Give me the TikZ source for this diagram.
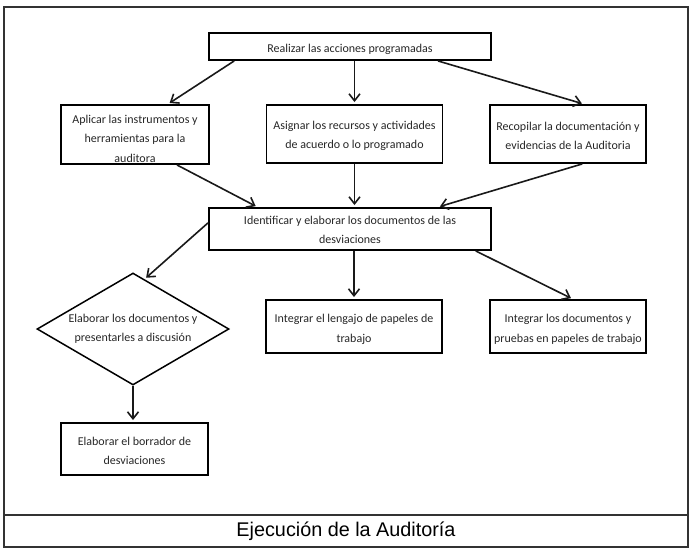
\documentclass[tikz,border=0pt]{standalone}
\usepackage{fontspec}
\setmainfont{Carlito}
\newfontfamily\titlefont{Liberation Sans}
\usetikzlibrary{arrows.meta,shapes.geometric,calc}
\begin{document}
\begin{tikzpicture}[x=1pt,y=-1pt,
  box/.style={draw=black, line width=1.9pt, rectangle, inner sep=0pt},
  dia/.style={draw=black, line width=1.5pt, diamond, inner sep=0pt},
  txt/.style={inner sep=0pt, align=center, font=\fontsize{12}{19.5}\selectfont, text=black!85},
  arr/.style={draw=black!90, line width=1.6pt, shorten >=2pt,
    -{Straight Barb[length=7pt,width=11pt,line width=1.6pt]}},
  frame/.style={draw=black!80, line width=1.5pt, rectangle, inner sep=0pt}
]
\useasboundingbox (0,0) rectangle (694,554);
\node[frame, minimum width=684pt, minimum height=540pt] (frame) at (346,277) {};
\node[frame, minimum width=684pt, minimum height=32pt, font=\titlefont\fontsize{19.8}{22}\selectfont, text=black] (title) at (346,531) {Ejecución de la Auditoría};

\node[box, minimum width=282pt, minimum height=27pt] (top) at (350,46.5) {};
\node[box, minimum width=148pt, minimum height=59pt] (A) at (135,134.5) {};
\node[box, minimum width=176pt, minimum height=58pt] (B) at (354.5,134) {};
\node[box, minimum width=156pt, minimum height=58pt] (C) at (568,134) {};
\node[box, minimum width=282pt, minimum height=42pt] (D) at (350,229) {};
\node[dia, minimum width=192pt, minimum height=112pt] (E) at (133,329) {};
\node[box, minimum width=176pt, minimum height=53pt] (F) at (354,326.5) {};
\node[box, minimum width=156pt, minimum height=53pt] (G) at (568,326.5) {};
\node[box, minimum width=147pt, minimum height=52pt] (H) at (134.5,449) {};

\node[txt] (tTop) at ([yshift=-3pt]top.center) {Realizar las acciones programadas};
\node[txt] (tA) at ([yshift=-4pt]A.center) {Aplicar las instrumentos y\\herramientas para la\\auditora};
\node[txt] (tB) at ([yshift=-2pt]B.center) {Asignar los recursos y actividades\\de acuerdo o lo programado};
\node[txt] (tC) at ([yshift=-2pt]C.center) {Recopilar la documentación y\\evidencias de la Auditoria};
\node[txt] (tD) at ([yshift=-1pt]D.center) {Identificar y elaborar los documentos de las\\desviaciones};
\node[txt] (tE) at ([yshift=0pt]E.center) {Elaborar los documentos y\\presentarles a discusión};
\node[txt] (tF) at ([yshift=-3pt]F.center) {Integrar el lengajo de papeles de\\trabajo};
\node[txt] (tG) at ([yshift=-3pt]G.center) {Integrar los documentos y\\pruebas en papeles de trabajo};
\node[txt] (tH) at ([yshift=-2pt]H.center) {Elaborar el borrador de\\desviaciones};

\draw[arr] ($(top.south west)!0.092!(top.south east)$) -- ($(A.north west)!0.72!(A.north east)$);
\draw[arr] (top.south -| B.north) -- (B.north);
\draw[arr] ($(top.south west)!0.81!(top.south east)$) -- ($(C.north west)!0.60!(C.north east)$);
\draw[arr] ($(A.south west)!0.78!(A.south east)$) -- ($(D.north west)!0.174!(D.north east)$);
\draw[arr] (B.south) -- (B.south |- D.north);
\draw[arr] ($(C.south west)!0.59!(C.south east)$) -- ($(D.north west)!0.81!(D.north east)$);
\draw[arr] ($(D.north west)!0.36!(D.south west)$) -- ($(E.north)!0.12!(E.east)$);
\draw[arr] (D.south -| F.north) -- (F.north);
\draw[arr] ($(D.south west)!0.943!(D.south east)$) -- ($(G.north west)!0.53!(G.north east)$);
\draw[arr] (E.south) -- (E.south |- H.north);
\end{tikzpicture}
\end{document}
